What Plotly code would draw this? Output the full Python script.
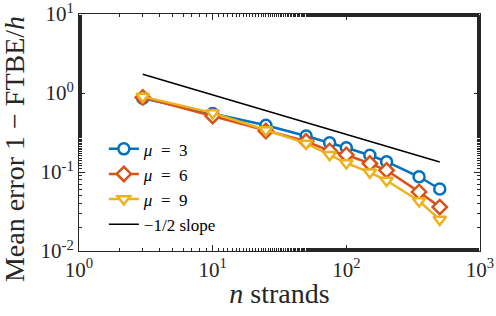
import plotly.graph_objects as go

n_strands = [3, 10, 25, 50, 75, 100, 150, 200, 350, 500]
err_mu3 = [0.86, 0.55, 0.39, 0.285, 0.235, 0.203, 0.163, 0.135, 0.087, 0.061]
err_mu6 = [0.88, 0.51, 0.33, 0.245, 0.185, 0.165, 0.128, 0.105, 0.056, 0.036]
err_mu9 = [0.90, 0.56, 0.34, 0.23, 0.165, 0.13, 0.099, 0.078, 0.043, 0.025]
slope_x = [3, 500]
slope_y = [1.73, 0.134]

x_tickvals = [1, 10, 100, 1000]
x_ticktext = ["10<sup>0</sup>", "10<sup>1</sup>", "10<sup>2</sup>", "10<sup>3</sup>"]
y_tickvals = [0.01, 0.1, 1, 10]
y_ticktext = ["10<sup>-2</sup>", "10<sup>-1</sup>", "10<sup>0</sup>", "10<sup>1</sup>"]

FONT = "Liberation Serif"
TXT = "#262626"
SP = "\u2002"

fig = go.Figure()
series = [
    (err_mu3, f"<i>μ</i>{SP}={SP}3", "#0072BD", "circle"),
    (err_mu6, f"<i>μ</i>{SP}={SP}6", "#D95319", "diamond"),
    (err_mu9, f"<i>μ</i>{SP}={SP}9", "#EDB120", "triangle-down"),
]
for ys, name, color, sym in series:
    fig.add_trace(go.Scatter(
        x=n_strands, y=ys, name=name, mode="lines+markers",
        line=dict(color=color, width=2.5),
        marker=dict(symbol=sym, size=11, color="white",
                    line=dict(color=color, width=2.5)),
    ))
fig.add_trace(go.Scatter(
    x=slope_x, y=slope_y, name="−1/2 slope", mode="lines",
    line=dict(color="black", width=1.5),
))

axis_common = dict(
    showgrid=False, zeroline=False, showline=True, linecolor=TXT,
    linewidth=1, mirror="allticks", ticks="inside", ticklen=6,
    tickcolor=TXT, tickfont=dict(family=FONT, size=21, color=TXT),
    minor=dict(ticks="inside", ticklen=3, tickcolor=TXT, showgrid=False),
    automargin=False, ticklabeloverflow="allow",
)
fig.update_xaxes(type="log", range=[0, 3], tickvals=x_tickvals, ticktext=x_ticktext,
                 title=dict(text="<i>n</i> strands", font=dict(family=FONT, size=28, color=TXT),
                            standoff=2),
                 **axis_common)
fig.update_yaxes(type="log", range=[-2, 1], tickvals=y_tickvals, ticktext=y_ticktext,
                 **axis_common)

fig.add_annotation(
    text="Mean error 1 − FTBE/<i>h</i>", textangle=-90,
    xref="paper", yref="paper", x=0, y=0.43, xanchor="center", yanchor="middle",
    xshift=-65, showarrow=False,
    font=dict(family=FONT, size=28, color=TXT),
)

fig.update_layout(
    width=496, height=316,
    margin=dict(l=79, r=16, t=14, b=65),
    plot_bgcolor="white", paper_bgcolor="white",
    font=dict(family=FONT, size=17, color=TXT),
    showlegend=True,
    legend=dict(x=0.062, y=0.505, xanchor="left", yanchor="top",
                bgcolor="rgba(255,255,255,0)", borderwidth=0,
                font=dict(family=FONT, size=17, color="black"),
                tracegroupgap=0),
)
fig.write_html("out.html", config={"displayModeBar": False},
               post_script="document.body.style.margin='0';")
